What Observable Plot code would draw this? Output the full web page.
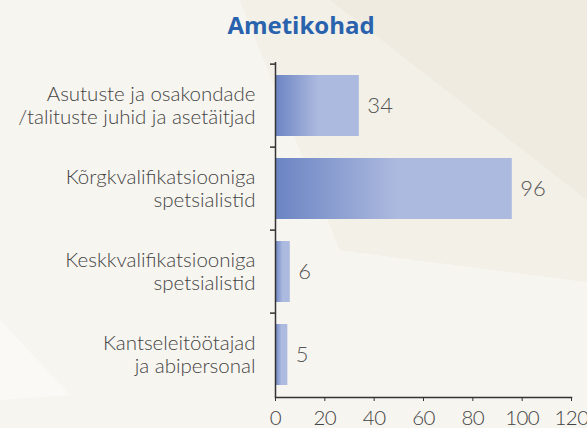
<!DOCTYPE html>
<html>
<head>
<meta charset="utf-8">
<script src="https://cdn.jsdelivr.net/npm/d3@7"></script>
<script src="https://cdn.jsdelivr.net/npm/@observablehq/plot@0.6"></script>
<style>
  html, body { margin: 0; padding: 0; }
  #wrap { position: relative; width: 587px; height: 428px; overflow: hidden; background: #f7f5f0; font-family: Lato, "Open Sans", sans-serif; }
  .bg { position: absolute; left: 0; top: 0; width: 587px; height: 428px; }
  #bg1 { background: #efebe1; clip-path: polygon(240px 0, 587px 0, 587px 282px, 340px 250px); }
  #bg2 { background: #f3f0e8; clip-path: polygon(240px 0, 330px 0, 587px 200px, 587px 282px, 340px 250px); }
  #bg3 { background: #faf9f6; clip-path: polygon(0 320px, 70px 395px, 0 400px); }
  #title { position: absolute; left: 15px; width: 572px; top: 9px; text-align: center; font-family: "Open Sans", sans-serif; font-weight: 700; font-size: 24px; line-height: 32px; color: #2962ad; }
  #chart { position: absolute; left: 0; top: 50px; }
  #chart svg g[aria-label="x-axis tick label"] text { letter-spacing: -0.6px; }
</style>
</head>
<body>
<div id="wrap">
  <div class="bg" id="bg1"></div>
  <div class="bg" id="bg2"></div>
  <div class="bg" id="bg3"></div>
  <div id="title">Ametikohad</div>
  <div id="chart"></div>
</div>
<script>
const categories = [
  "Asutuste ja osakondade\n/talituste juhid ja asetäitjad",
  "Kõrgkvalifikatsiooniga\nspetsialistid",
  "Keskkvalifikatsiooniga\nspetsialistid",
  "Kantseleitöötajad\nja abipersonal"
];
const values = [34, 96, 6, 5];
const xTicks = [0, 20, 40, 60, 80, 100, 120];

const data = categories.map((c, i) => ({category: c, value: values[i]}));

const W = 587, H = 378, mTop = 12, mBottom = 31, mLeft = 275, mRight = 16;
const step = (H - mTop - mBottom) / categories.length;
const font = "Lato, 'Open Sans', sans-serif";

const plot = Plot.plot({
  width: W,
  height: H,
  marginTop: mTop,
  marginBottom: mBottom,
  marginLeft: mLeft,
  marginRight: mRight,
  style: {background: "transparent", fontFamily: font, fontWeight: 300, color: "#444", overflow: "visible"},
  x: {domain: [0, 120], ticks: xTicks, label: null},
  y: {domain: categories, paddingInner: 0.27, paddingOuter: 0.135, axis: null, label: null},
  marks: [
    Plot.barX(data, {y: "category", x: "value", fill: "url(#barGrad)"}),
    Plot.ruleX([0], {stroke: "#333", strokeWidth: 1.5}),
    Plot.frame({anchor: "bottom", stroke: "#333", strokeWidth: 1.5}),
    Plot.ruleY(data, {y: "category", x1: 0, x2: 0, insetLeft: -5, dy: -step / 2, stroke: "#333", strokeWidth: 1.5}),
    Plot.axisX({ticks: xTicks, tickSize: 4, tickPadding: 9, fontSize: 20.5, fontWeight: 300, fill: "#444", stroke: "#333", label: null}),
    Plot.text(data, {y: "category", x: 0, dx: -20, dy: -1, text: "category", textAnchor: "end", fontSize: 20.5, fontWeight: 300, fill: "#444", lineHeight: 1.13}),
    Plot.text(data, {y: "category", x: "value", dx: 8, text: d => String(d.value), textAnchor: "start", fontSize: 22, fontWeight: 300, fill: "#555"})
  ]
});

const svg = d3.select(plot);
const grad = svg.insert("defs", ":first-child").append("linearGradient")
  .attr("id", "barGrad").attr("x1", "0").attr("x2", "1").attr("y1", "0").attr("y2", "0");
grad.append("stop").attr("offset", "0").attr("stop-color", "#6b84c3");
grad.append("stop").attr("offset", "0.52").attr("stop-color", "#adbadf");
grad.append("stop").attr("offset", "1").attr("stop-color", "#adbadf");

document.getElementById("chart").appendChild(plot);
</script>
</body>
</html>
